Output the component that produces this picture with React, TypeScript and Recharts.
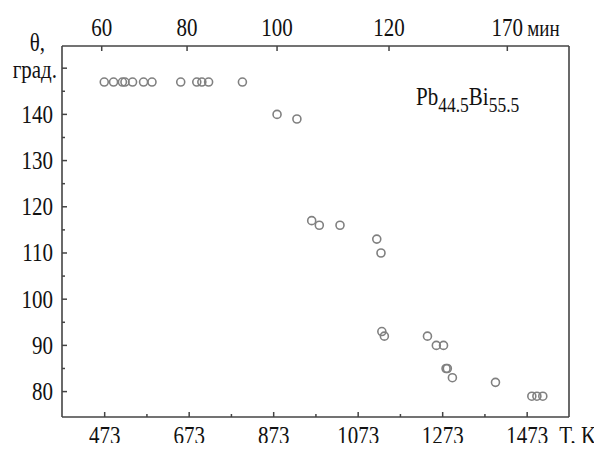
import { ScatterChart, Scatter, XAxis, YAxis, Customized } from "recharts";

const tempK = [
  472, 494, 515, 521, 539, 565, 585, 653, 691, 703, 719, 799, 881, 928, 963,
  981, 1030, 1117, 1127, 1129, 1135, 1237, 1258, 1275, 1281, 1284, 1296, 1398,
  1484, 1496, 1510,
];
const theta = [
  147, 147, 147, 147, 147, 147, 147, 147, 147, 147, 147, 147, 140, 139, 117,
  116, 116, 113, 110, 93, 92, 92, 90, 90, 85, 85, 83, 82, 79, 79, 79,
];

const bottomTicks = [473, 573, 673, 773, 873, 973, 1073, 1173, 1273, 1373, 1473];
const leftTicks = [80, 85, 90, 95, 100, 105, 110, 115, 120, 125, 130, 135, 140, 145, 150];
// top axis: time in minutes, placed at the matching temperature
const topTickK = [466, 668, 881, 1146, 1426];
const topTickLabels = ["60", "80", "100", "120", "170"];

const X_DOMAIN = [372, 1572];
const Y_DOMAIN = [74.5, 154.8];

const FRAME = "#444";
const INK = "#111";
const FONT = "Liberation Serif";

function T({ x, y, anchor = "middle", size = 21, children }: any) {
  return (
    <text
      transform={`translate(${x},${y}) scale(1,1.22)`}
      textAnchor={anchor}
      fontSize={size}
      fontFamily={FONT}
      fill={INK}
    >
      {children}
    </text>
  );
}

function BottomTick({ x, y, payload }: any) {
  const v = payload.value;
  const major = (v - 473) % 200 === 0;
  return (
    <g>
      <line x1={x} x2={x} y1={y} y2={y - (major ? 5 : 3)} stroke={FRAME} strokeWidth={1.5} />
      {major && <T x={x} y={y + 27}>{v}</T>}
      {v === 1473 && (
        <T x={x + 32} y={y + 27} anchor="start">
          T, K
        </T>
      )}
    </g>
  );
}

function TopTick({ x, y, payload }: any) {
  const label = topTickLabels[topTickK.indexOf(payload.value)];
  return (
    <g>
      <line x1={x} x2={x} y1={y} y2={y + 5} stroke={FRAME} strokeWidth={1.5} />
      <T x={x} y={y - 10}>{label}</T>
      {label === "170" && (
        <T x={x + 20} y={y - 10} anchor="start" size={19}>
          мин
        </T>
      )}
    </g>
  );
}

function LeftTick({ x, y, payload }: any) {
  const v = payload.value;
  const major = v % 10 === 0;
  return (
    <g>
      <line x1={x} x2={x + (major ? 5 : 3)} y1={y} y2={y} stroke={FRAME} strokeWidth={1.5} />
      {major && v !== 150 && (
        <T x={x - 9} y={y + 8.5} anchor="end">
          {v}
        </T>
      )}
      {v === 150 && (
        <>
          <T x={x - 5} y={y + 10} anchor="end">
            град.
          </T>
          <T x={x - 17} y={y - 17} anchor="end">
            θ,
          </T>
        </>
      )}
    </g>
  );
}

const Ring = (props: any) => (
  <circle cx={props.cx} cy={props.cy} r={4} fill="none" stroke="#808080" strokeWidth={1.6} />
);

const Nothing = () => <g />;

const Formula = () => (
  <text
    transform="translate(416,105) scale(1,1.22)"
    fontSize={21}
    fontFamily={FONT}
    fill={INK}
  >
    <tspan>Pb</tspan>
    <tspan fontSize={17.5} dy={6}>44.5</tspan>
    <tspan dy={-6}>Bi</tspan>
    <tspan fontSize={17.5} dy={6}>55.5</tspan>
  </text>
);

export default function App() {
  const data = tempK.map((t, i) => ({ t, theta: theta[i] }));
  return (
    <div style={{ margin: -8 }}>
      <ScatterChart
        width={602}
        height={451}
        margin={{ top: 0, right: 0, bottom: 0, left: 0 }}
        style={{ background: "#fff" }}
      >
        <XAxis
          xAxisId="bottom"
          type="number"
          dataKey="t"
          orientation="bottom"
          height={34}
          domain={X_DOMAIN}
          allowDataOverflow
          ticks={bottomTicks}
          interval={0}
          tickSize={0}
          tickMargin={0}
          tickLine={false}
          axisLine={{ stroke: FRAME, strokeWidth: 1.6 }}
          tick={<BottomTick />}
        />
        <XAxis
          xAxisId="top"
          type="number"
          dataKey="t"
          orientation="top"
          height={46}
          domain={X_DOMAIN}
          allowDataOverflow
          ticks={topTickK}
          interval={0}
          tickSize={0}
          tickMargin={0}
          tickLine={false}
          axisLine={{ stroke: FRAME, strokeWidth: 1.6 }}
          tick={<TopTick />}
        />
        <YAxis
          yAxisId="left"
          type="number"
          dataKey="theta"
          orientation="left"
          width={62}
          domain={Y_DOMAIN}
          allowDataOverflow
          ticks={leftTicks}
          interval={0}
          tickSize={0}
          tickMargin={0}
          tickLine={false}
          axisLine={{ stroke: FRAME, strokeWidth: 1.6 }}
          tick={<LeftTick />}
        />
        <YAxis
          yAxisId="right"
          type="number"
          dataKey="theta"
          orientation="right"
          width={33}
          domain={Y_DOMAIN}
          allowDataOverflow
          tick={false}
          tickLine={false}
          axisLine={{ stroke: FRAME, strokeWidth: 1.6 }}
        />
        <Scatter
          data={data}
          xAxisId="top"
          yAxisId="right"
          shape={Nothing}
          isAnimationActive={false}
        />
        <Scatter
          data={data}
          xAxisId="bottom"
          yAxisId="left"
          shape={Ring}
          isAnimationActive={false}
        />
        <Customized component={Formula} />
      </ScatterChart>
    </div>
  );
}
